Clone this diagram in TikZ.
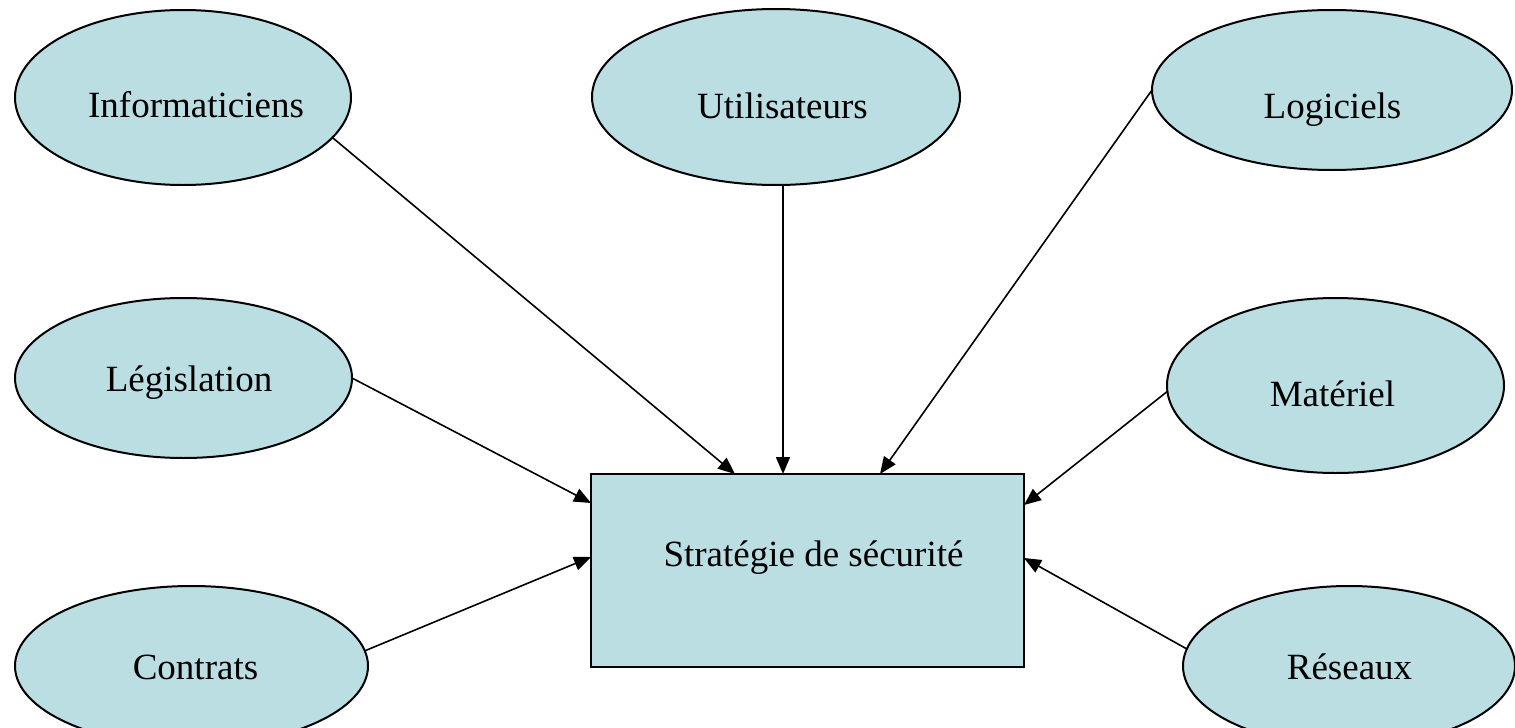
\documentclass[tikz,border=0pt]{standalone}
\usepackage{fontspec}
\setmainfont{Liberation Serif}
\usetikzlibrary{shapes.geometric,arrows.meta}
\definecolor{paleblue}{RGB}{187,222,227}
\begin{document}
\begin{tikzpicture}[x=1pt,y=-1pt,
  oval/.style={ellipse, draw, line width=2pt, fill=paleblue, inner sep=0pt, outer sep=0pt},
  box/.style={rectangle, draw, line width=1.8pt, fill=paleblue, inner sep=0pt, outer sep=0pt},
  lbl/.style={anchor=base, font=\fontsize{37}{44}\selectfont, inner sep=0pt},
  feed/.style={line width=1.6pt, -{Triangle[length=17pt,width=14pt]}}]
\useasboundingbox (0,0) rectangle (1515,728);

% contributing factors
\node[oval, minimum width=336pt, minimum height=175pt] (info) at (183,97.5) {};
\node[oval, minimum width=368pt, minimum height=176pt] (util) at (776,97) {};
\node[oval, minimum width=360pt, minimum height=160pt] (logi) at (1332,90) {};
\node[oval, minimum width=337pt, minimum height=160pt] (legi) at (183.5,378) {};
\node[oval, minimum width=337pt, minimum height=175pt] (mate) at (1335.5,385.5) {};
\node[oval, minimum width=353pt, minimum height=160pt] (cont) at (191.5,666) {};
\node[oval, minimum width=332pt, minimum height=160pt] (rese) at (1349,666) {};

% central box
\node[box, minimum width=433pt, minimum height=193pt] (strat) at (807.5,570.5) {};

% labels
\node[lbl] (infoT) at (196,117) {Informaticiens};
\node[lbl] (utilT) at (782.5,118) {Utilisateurs};
\node[lbl] (logiT) at (1332.5,118) {Logiciels};
\node[lbl] (legiT) at (189,391) {Législation};
\node[lbl] (mateT) at (1332.5,406.5) {Matériel};
\node[lbl] (contT) at (195.5,679) {Contrats};
\node[lbl] (reseT) at (1349.5,679) {Réseaux};
\node[lbl] (stratT) at (813.5,566.5) {Stratégie de sécurité};

% entry points on the box border
\coordinate (pInfo) at ([xshift=144pt]strat.north west);
\coordinate (pUtil) at ([xshift=192pt]strat.north west);
\coordinate (pLogi) at ([xshift=289pt]strat.north west);
\coordinate (pLegi) at ([yshift=-29pt]strat.north west);
\coordinate (pCont) at ([yshift=-83pt]strat.north west);
\coordinate (pMate) at ([yshift=-31pt]strat.north east);
\coordinate (pRese) at ([yshift=-84pt]strat.north east);

% connectors
\draw[feed] (info.-15) -- (pInfo);
\draw[feed] (util.south -| pUtil) -- (pUtil);
\draw[feed] (logi.west) -- (pLogi);
\draw[feed] (legi.east) -- (pLegi);
\draw[feed] (cont.5.2) -- (pCont);
\draw[feed] (mate.182) -- (pMate);
\draw[feed] (rese.174.5) -- (pRese);
\end{tikzpicture}
\end{document}
